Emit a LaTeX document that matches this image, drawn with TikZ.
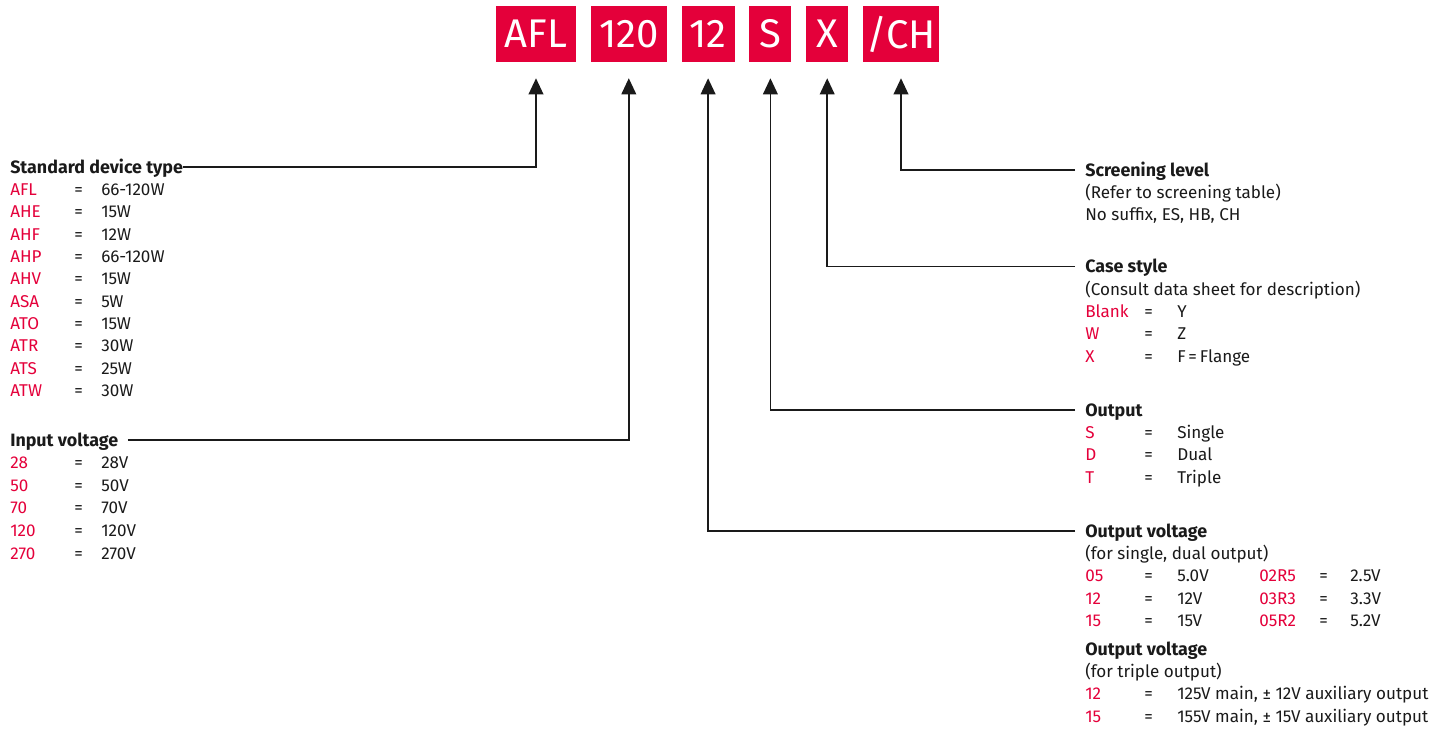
\documentclass[tikz,border=0pt]{standalone}
\usepackage{fontspec}
\setmainfont{Fira Sans}
\usetikzlibrary{arrows.meta,positioning}
\definecolor{brand}{HTML}{E4003A}
\definecolor{ink}{HTML}{1A1A1A}
\tikzset{
  code/.style={fill=brand, text=white, font=\fontsize{30}{30}\selectfont, minimum height=42pt, minimum width=#1, inner sep=0pt},
  ttl/.style={anchor=base west, inner sep=0pt, font=\fontsize{13.4}{15}\selectfont\bfseries, text=ink},
  txt/.style={anchor=base west, inner sep=0pt, text=ink},
  key/.style={anchor=base west, inner sep=0pt, text=brand},
  arr/.style={-{Triangle[length=12pt,width=11pt]}, line width=1.1pt, draw=ink, shorten >=12pt},
}

\begin{document}
\begin{tikzpicture}[x=0.75pt, y=-0.75pt, font=\fontsize{12.8}{15}\selectfont]
  \useasboundingbox (0,0) rectangle (1452,729);
  % part number boxes
  \node[code=60pt] (bAFL) at (536,34) {AFL};
  \node[code=57pt, right=10.7pt of bAFL] (b120) {120};
  \node[code=39.75pt, right=10.7pt of b120] (b12) {12};
  \node[code=31.5pt, right=10.7pt of b12] (bS) {S};
  \node[code=31.5pt, right=10.7pt of bS] (bX) {X};
  \node[code=57pt, right=10.7pt of bX] (bCH) {/CH};
  % left: device type
  \node[ttl] (tstd) at (10,173) {Standard device type};
  \foreach \k/\v [count=\i] in {AFL/66-120W, AHE/15W, AHF/12W, AHP/66-120W, AHV/15W,
      ASA/5W, ATO/15W, ATR/30W, ATS/25W, ATW/30W} {
    \node[key] (stdk\i) at (10,173+22.35*\i) {\k};
    \node[txt] (stde\i) at (74,173+22.35*\i) {=};
    \node[txt] (stdv\i) at (101,173+22.35*\i) {\v};
  }
  % left: input voltage
  \node[ttl] (tin) at (10,446) {Input voltage};
  \foreach \k/\v [count=\i] in {28/28V, 50/50V, 70/70V, 120/120V, 270/270V} {
    \node[key] (ink\i) at (10,446+22.6*\i) {\k};
    \node[txt] (ine\i) at (74,446+22.6*\i) {=};
    \node[txt] (inv\i) at (101,446+22.6*\i) {\v};
  }
  % right: screening level
  \node[ttl] (tscr) at (1085,176) {Screening level};
  \node[txt] (scr1) at (1085,198.4) {(Refer to screening table)};
  \node[txt] (scr2) at (1085,220.8) {No suffix, ES, HB, CH};
  % right: case style
  \node[ttl] (tcase) at (1085,272.7) {Case style};
  \node[txt] (case0) at (1085,295.1) {(Consult data sheet for description)};
  \foreach \k/\v [count=\i] in {Blank/Y, W/Z, X/F\,=\,Flange} {
    \node[key] (casek\i) at (1085,295.1+22.4*\i) {\k};
    \node[txt] (casee\i) at (1144,295.1+22.4*\i) {=};
    \node[txt] (casev\i) at (1177,295.1+22.4*\i) {\v};
  }
  % right: output
  \node[ttl] (tout) at (1085,416) {Output};
  \foreach \k/\v [count=\i] in {S/Single, D/Dual, T/Triple} {
    \node[key] (outk\i) at (1085,416+22.4*\i) {\k};
    \node[txt] (oute\i) at (1144,416+22.4*\i) {=};
    \node[txt] (outv\i) at (1177,416+22.4*\i) {\v};
  }
  % right: output voltage, single and dual
  \node[ttl] (tov) at (1085,537) {Output voltage};
  \node[txt] (ov0) at (1085,559.4) {(for single, dual output)};
  \foreach \k/\v/\kk/\vv [count=\i] in {05/5.0V/02R5/2.5V, 12/12V/03R3/3.3V, 15/15V/05R2/5.2V} {
    \node[key] (ovk\i) at (1085,559.4+22.4*\i) {\k};
    \node[txt] (ove\i) at (1144,559.4+22.4*\i) {=};
    \node[txt] (ovv\i) at (1177,559.4+22.4*\i) {\v};
    \node[key] (ovkk\i) at (1259,559.4+22.4*\i) {\kk};
    \node[txt] (ovee\i) at (1319,559.4+22.4*\i) {=};
    \node[txt] (ovvv\i) at (1350,559.4+22.4*\i) {\vv};
  }
  % right: output voltage, triple
  \node[ttl] (tot) at (1085,655) {Output voltage};
  \node[txt] (ot0) at (1085,677.4) {(for triple output)};
  \foreach \k/\v [count=\i] in {12/125V main{,} ± 12V auxiliary output, 15/155V main{,} ± 15V auxiliary output} {
    \node[key] (otk\i) at (1085,677.4+22.4*\i) {\k};
    \node[txt] (ote\i) at (1144,677.4+22.4*\i) {=};
    \node[txt] (otv\i) at (1177,677.4+22.4*\i) {\v};
  }
  % connectors
  \draw[arr] ([yshift=4.5pt]tstd.base east) -| (bAFL);
  \draw[arr] ([shift={(7pt,4.5pt)}]tin.base east) -| (b120);
  \draw[arr] ([shift={(-7.5pt,4.5pt)}]tov.base west) -| (b12);
  \draw[arr] ([shift={(-7.5pt,4.5pt)}]tout.base west) -| (bS);
  \draw[arr] ([shift={(-7.5pt,4.5pt)}]tcase.base west) -| (bX);
  \draw[arr] ([shift={(-7.5pt,4.5pt)}]tscr.base west) -| (bCH);
\end{tikzpicture}
\end{document}
